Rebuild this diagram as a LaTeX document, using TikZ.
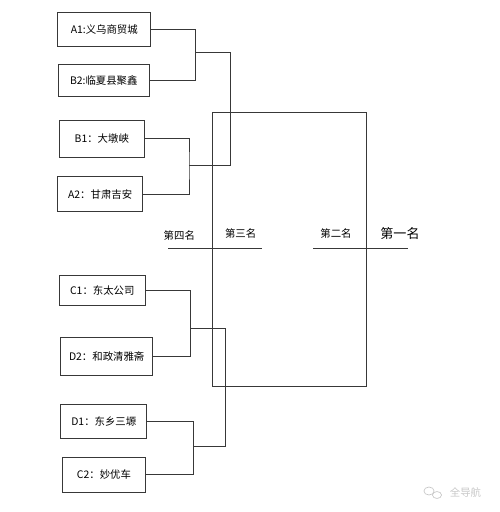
\documentclass[tikz,border=0pt]{standalone}
\usepackage{fontspec}
\setmainfont{Noto Sans CJK SC}
\usepackage{tikz}
\usetikzlibrary{positioning}
\colorlet{linec}{black!78}
\colorlet{markc}{black!22}

\begin{document}
\begin{tikzpicture}[x=0.75pt,y=-0.75pt,line width=0.75pt,
  team/.style={draw=linec,inner sep=0pt,minimum height=25.5pt,font=\fontsize{7.8}{9}\selectfont},
  rank/.style={font=\fontsize{7.8}{9}\selectfont},
  bracket/.style={draw=linec}]
\useasboundingbox (0,0) rectangle (500,512);

\node[team,minimum width=70pt] (a1) at (104.3,29.7)  {A1:义乌商贸城};
\node[team,minimum width=68.2pt,minimum height=23.8pt] (b2) at (103.8,80.2) {B2:临夏县聚鑫};
\node[team,minimum width=63.8pt,minimum height=28pt] (b1) at (101.8,138.7) {B1：大墩峡};
\node[team,minimum width=63.8pt,minimum height=26.2pt] (a2) at (100.2,194.2) {A2：甘肃吉安};
\node[team,minimum width=64.5pt,minimum height=23.2pt] (c1) at (102.3,290.5) {C1：东太公司};
\node[team,minimum width=69pt,minimum height=28.5pt] (d2) at (106.7,356.7) {D2：和政清雅斋};
\node[team,minimum width=64.3pt] (d1) at (103.8,421.3) {D1：东乡三塬};
\node[team,minimum width=62.5pt,minimum height=26.2pt] (c2) at (104,474.8) {C2：妙优车};

% bracket joints
\coordinate (m1) at (195.3,52.7);
\coordinate (m2) at (189,165);
\coordinate (m3) at (190.7,328.3);
\coordinate (m4) at (193.3,446.7);
\coordinate (s1) at (230,52.7);
\coordinate (s2) at (230,165);
\coordinate (s3) at (225.7,328.3);
\coordinate (s4) at (225.7,446.7);

\draw[bracket] (a1.east) -| (m1) |- (b2.east);
\draw[bracket] (b1.east) -| (m2) |- (a2.east);
\draw[bracket] (c1.east) -| (m3) |- (d2.east);
\draw[bracket] (d1.east) -| (m4) |- (c2.east);
\draw[bracket] (m1) -- (s1) -- (s2) -- (m2);
\draw[bracket] (m3) -- (s3) -- (s4) -- (m4);

% final box
\coordinate (f1) at (212.7,112.7);
\coordinate (f2) at (366,386.7);
\draw[bracket] (f1) rectangle (f2);

\coordinate (l1) at (168.3,248.3);
\coordinate (l2) at (262.3,248.3);
\coordinate (l3) at (313.3,248.3);
\coordinate (l4) at (407.7,248.3);
\draw[bracket] (l1) -- (l2);
\draw[bracket] (l3) -- (l4);
\node[rank] (r4) at (179.3,236) {第四名};
\node[rank] (r3) at (240.7,233.5) {第三名};
\node[rank] (r2) at (336,233.7) {第二名};
\node[font=\fontsize{9.8}{11}\selectfont] (r1) at (400,234) {第一名};

% watermark
\draw[markc,line width=0.5pt] (429,491) ellipse (3.8pt and 3pt);
\draw[markc,line width=0.5pt] (437,495) ellipse (3.4pt and 2.6pt);
\node[text=markc,font=\fontsize{7.8}{9}\selectfont] (wm) at (465.5,493) {全导航};
\end{tikzpicture}
\end{document}
